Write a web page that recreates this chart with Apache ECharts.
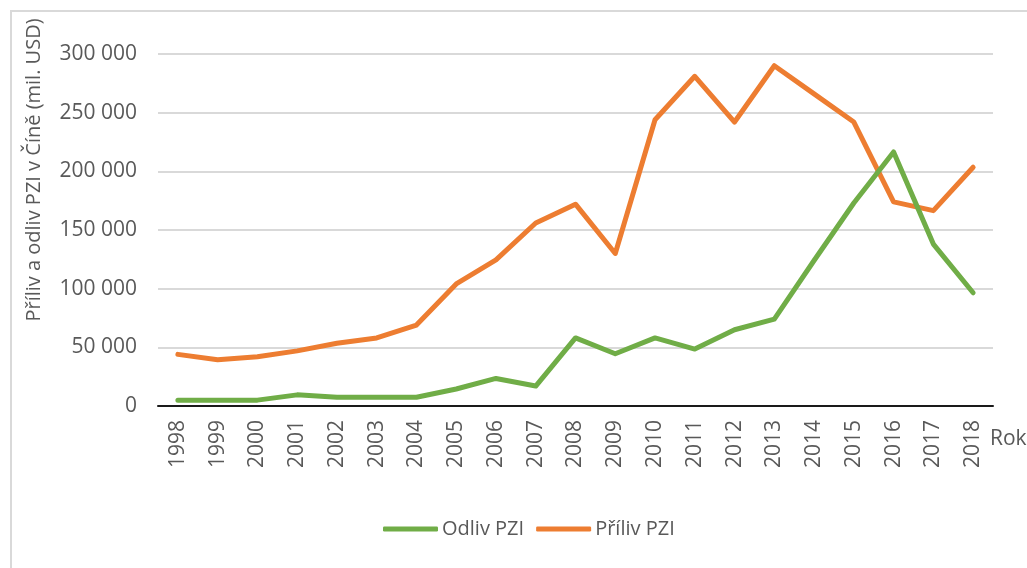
<!DOCTYPE html>
<html>
<head>
<meta charset="utf-8">
<script src="https://cdn.jsdelivr.net/npm/echarts@6/dist/echarts.min.js"></script>
<style>
html,body{margin:0;padding:0;background:#fff;}
#c{width:1027px;height:568px;}
</style>
</head>
<body>
<div id="c"></div>
<script>
const years = ['1998','1999','2000','2001','2002','2003','2004','2005','2006','2007','2008','2009','2010','2011','2012','2013','2014','2015','2016','2017','2018'];
const odliv = [5000,5000,5000,9500,7500,7500,7500,14500,23500,17000,58000,44500,58000,48500,65000,74000,124000,173000,216500,138000,96500];
const priliv = [44000,39500,42000,47000,53500,58000,69000,104000,124500,156000,172000,130000,244000,281000,242000,290000,266000,242000,174000,166500,203500];
const yTicks = [0,50000,100000,150000,200000,250000,300000];
const yName = 'Příliv a odliv PZI v Číně (mil. USD)';

const grey = '#595959';
const font = '"Open Sans", sans-serif';
const chart = echarts.init(document.getElementById('c'));
chart.setOption({
  animation:false,
  backgroundColor:'#fff',
  grid:{left:158,right:34,top:54,bottom:162},
  legend:{
    data:['Odliv PZI','Příliv PZI'],
    bottom:24,left:378,
    itemWidth:55,itemHeight:5,itemGap:12,
    icon:'roundRect',
    textStyle:{color:grey,fontSize:20,fontFamily:font,padding:[0,0,0,-1]}
  },
  xAxis:{
    type:'category',data:years,boundaryGap:true,
    axisLine:{lineStyle:{color:'#1a1a1a',width:2}},
    axisTick:{show:false},
    axisLabel:{rotate:90,color:grey,fontSize:21,fontFamily:font,margin:14,interval:0}
  },
  yAxis:{
    type:'value',min:0,max:300000,interval:50000,
    axisLine:{show:false},axisTick:{show:false},
    splitLine:{lineStyle:{color:'#d9d9d9',width:2}},
    axisLabel:{color:grey,fontSize:21,fontFamily:font,margin:21,
      formatter:v=>yTicks.includes(v)?String(v).replace(/\B(?=(\d{3})+(?!\d))/g,' '):''}
  },
  series:[
    {name:'Odliv PZI',type:'line',data:odliv,symbol:'none',z:3,
     lineStyle:{color:'#70ad47',width:5,cap:'round',join:'round'},itemStyle:{color:'#70ad47'}},
    {name:'Příliv PZI',type:'line',data:priliv,symbol:'none',z:2,
     lineStyle:{color:'#ed7d31',width:5,cap:'round',join:'round'},itemStyle:{color:'#ed7d31'}}
  ],
  graphic:[
    {type:'rect',shape:{x:11,y:11,width:1030,height:570},style:{fill:'none',stroke:'#d9d9d9',lineWidth:2},silent:true},
    {type:'text',x:34,y:170,rotation:Math.PI/2,
     style:{text:yName,fill:grey,font:'20px '+font,align:'center',verticalAlign:'middle'}},
    {type:'text',left:990,top:429,style:{text:'Rok',fill:grey,font:'21px '+font}}
  ]
});
</script>
</body>
</html>
